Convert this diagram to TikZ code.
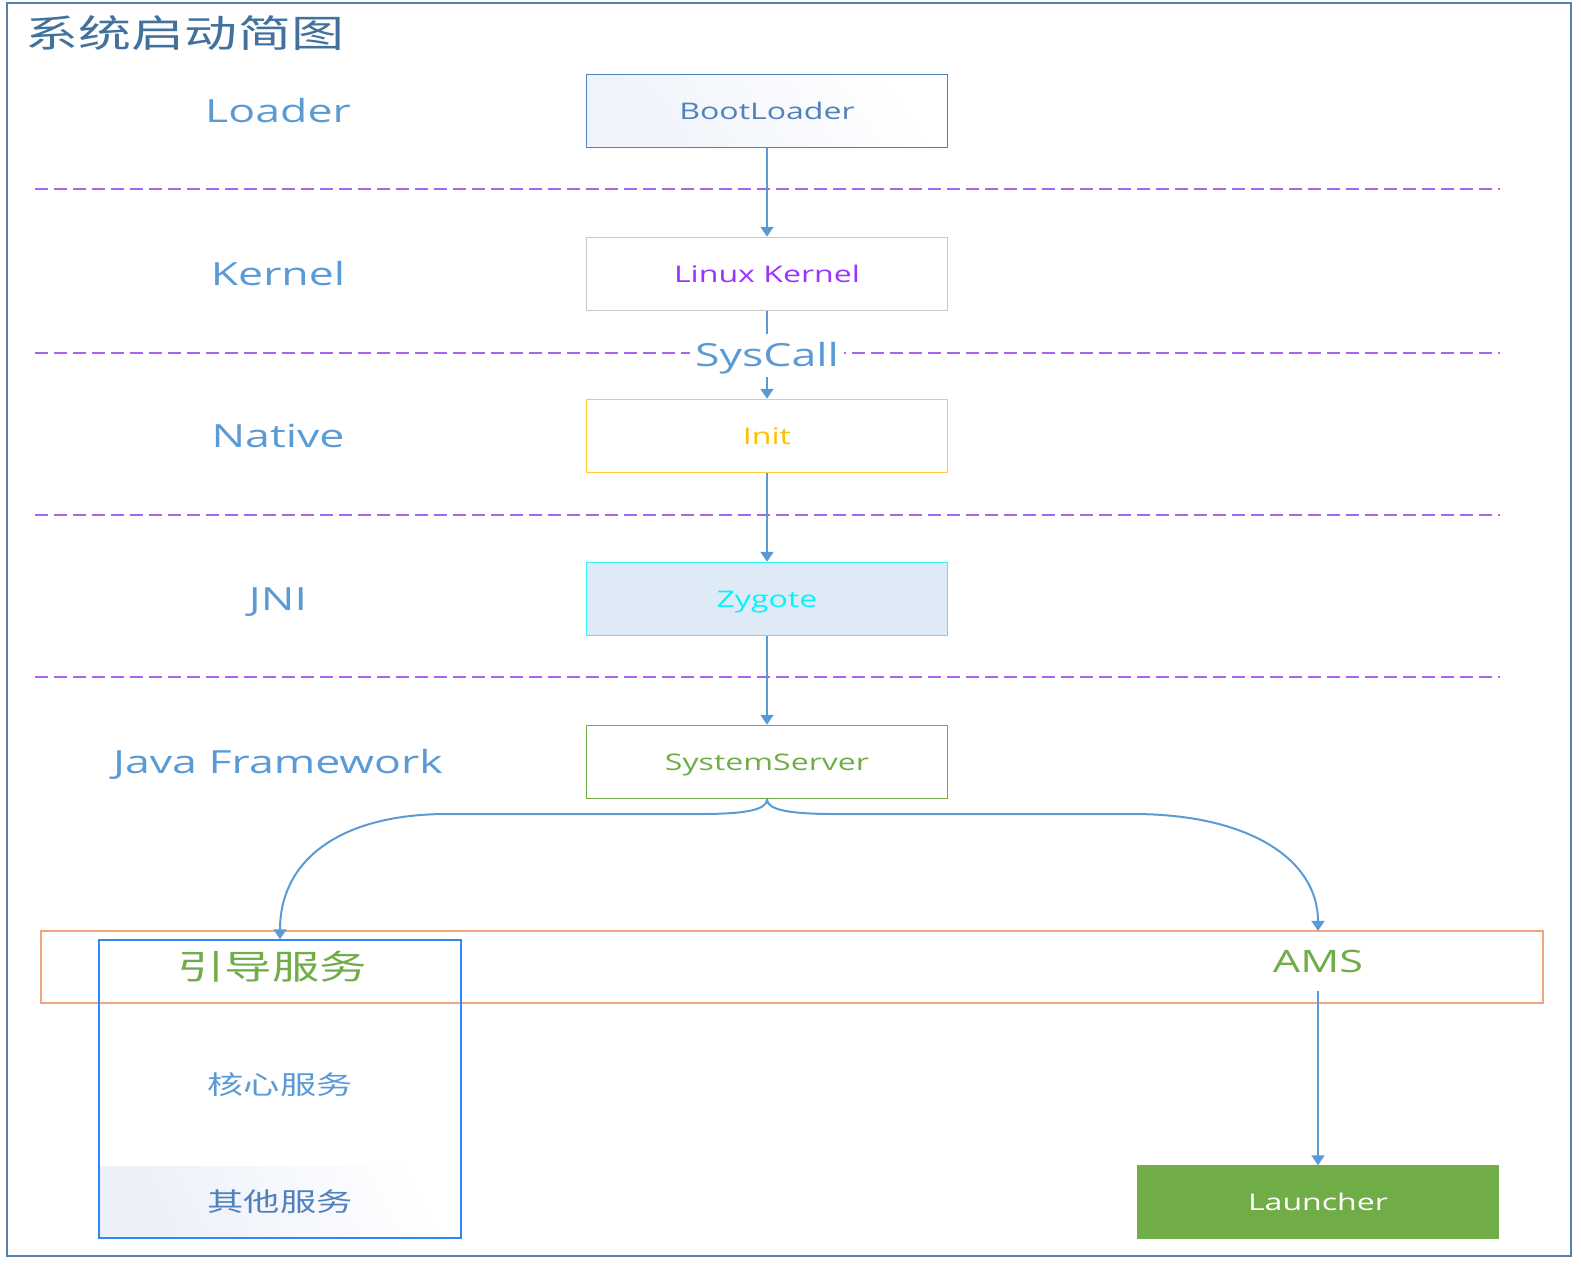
\documentclass[tikz,border=0pt]{standalone}
\usepackage{fontspec}
\setmainfont{Open Sans}[FakeStretch=1.4]
\newfontfamily\cjk{Noto Sans CJK SC}[FakeStretch=1.4]
\usetikzlibrary{arrows.meta}
\definecolor{framecol}{RGB}{88,128,172}
\definecolor{titlecol}{RGB}{65,113,156}
\definecolor{layercol}{RGB}{91,155,213}
\definecolor{dashcol}{RGB}{170,100,240}
\definecolor{bootcol}{RGB}{79,129,189}
\definecolor{bootfill}{RGB}{226,233,246}
\definecolor{kernelcol}{RGB}{153,51,255}
\definecolor{kernelline}{RGB}{200,200,200}
\definecolor{initcol}{RGB}{255,192,0}
\definecolor{zygotecol}{RGB}{0,245,255}
\definecolor{zygotefill}{RGB}{222,234,246}
\definecolor{greencol}{RGB}{112,173,71}
\definecolor{bandcol}{RGB}{241,165,120}
\definecolor{guidecol}{RGB}{51,133,255}
\colorlet{arrcol}{layercol}

\begin{document}
\begin{tikzpicture}[x=1bp, y=-1bp,
    stage/.style={draw, line width=1.5bp, minimum width=361bp, minimum height=73bp, inner sep=0,
      text height=17bp, text depth=0pt, font=\fontsize{23}{26}\selectfont},
    layer/.style={text=layercol, text height=23bp, text depth=0pt, font=\fontsize{32}{36}\selectfont},
    service/.style={font={\cjk\fontsize{26}{30}\selectfont}},
    arr/.style={draw=arrcol, line width=2bp, -{Triangle[width=13bp,length=10bp]}},
    sep/.style={draw=dashcol, line width=1.8bp, dash pattern=on 13bp off 6bp}]
    \useasboundingbox (0,0) rectangle (1581,1266);

    % frame and title
    \draw[framecol, line width=2bp] (7,3) rectangle (1571,1256);
    \node[text=titlecol, font={\cjk\fontsize{38}{42}\selectfont}] (title) at (185,33) {系统启动简图};

    % layer separators
    \foreach \y in {189,353,515,677}
        \draw[sep] (35,\y) -- (1500,\y);

    % layer names
    \node[layer] (lloader) at (278,111) {Loader};
    \node[layer] (lkernel) at (278,274) {Kernel};
    \node[layer] (lnative) at (278,436) {Native};
    \node[layer] (ljni)    at (278,599) {JNI};
    \node[layer] (ljava)   at (278,762) {Java Framework};

    % boot chain
    \node[stage, draw=bootcol, text=bootcol, left color=bootfill!55, right color=white, shading angle=125] (boot) at (767,111) {BootLoader};
    \node[stage, draw=kernelline, text=kernelcol, fill=white] (kernel) at (767,274) {Linux Kernel};
    \node[stage, draw=initcol!80, text=initcol] (init) at (767,436) {Init};
    \node[stage, draw=zygotecol!80, text=zygotecol, fill=zygotefill] (zygote) at (767,599) {Zygote};
    \node[stage, draw=greencol, text=greencol] (sysserver) at (767,762) {SystemServer};

    \draw[arr] (boot) -- (kernel);
    \draw[arr] (kernel) -- node[fill=white, text=layercol, text height=23bp, text depth=0pt, inner xsep=5bp, inner ysep=10bp,
        font=\fontsize{32}{36}\selectfont] (syscall) {SysCall} (init);
    \draw[arr] (init) -- (zygote);
    \draw[arr] (zygote) -- (sysserver);

    % services
    \shade[left color=bootfill!70, right color=white, shading angle=115] (100,1166) rectangle (460,1237);
    \node[draw=bandcol, line width=1.5bp, minimum width=1502bp, minimum height=72bp, inner sep=0] (band) at (792,967) {};
    \node[draw=guidecol, line width=1.5bp, minimum width=362bp, minimum height=298bp, inner sep=0] (guide) at (280,1089) {};
    \node[text=greencol, font={\cjk\fontsize{34}{38}\selectfont}] (guidename) at (272,967) {引导服务};
    \node[service, text=layercol] (core) at (280,1085) {核心服务};
    \node[service, text=bootcol] (other) at (280,1202) {其他服务};

    \node[text=greencol, text height=22bp, text depth=0pt, inner xsep=0, inner ysep=19bp,
        font=\fontsize{31}{34}\selectfont] (ams) at (1318,961) {AMS};
    \node[stage, draw=greencol, fill=greencol, text=white, minimum height=72bp] (launcher) at (1318,1202) {Launcher};

    \draw[arr] (sysserver.south) .. controls (767,810) and (745,814) .. (700,814) -- (447,814)
        .. controls (340,814) and (280,860) .. (guide.north);
    \draw[arr] (sysserver.south) .. controls (767,810) and (790,814) .. (835,814) -- (1133,814)
        .. controls (1250,814) and (1318,860) .. (ams.north);
    \draw[arr] (ams) -- (launcher);
\end{tikzpicture}
\end{document}
